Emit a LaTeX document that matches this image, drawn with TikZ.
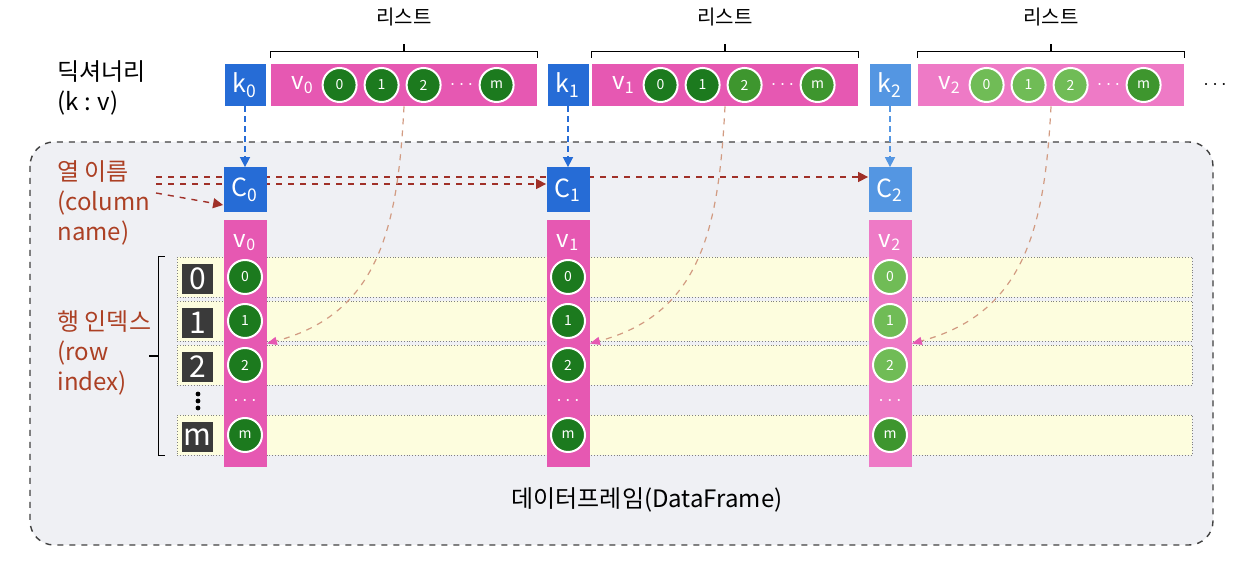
\documentclass[tikz,border=0pt]{standalone}
\usepackage{fontspec}
\setmainfont{Noto Sans CJK KR}
\usepackage{tikz}
\usetikzlibrary{arrows.meta, positioning, calc}
\pgfdeclarelayer{bg}
\pgfsetlayers{bg,main}

\definecolor{keyblue}{RGB}{38,108,214}
\definecolor{keyblue2}{RGB}{84,150,226}
\definecolor{barpink}{RGB}{230,88,178}
\definecolor{barpink2}{RGB}{238,122,198}
\definecolor{dkgreen}{RGB}{28,122,30}
\definecolor{mdgreen}{RGB}{62,150,46}
\definecolor{ltgreen}{RGB}{112,188,86}
\definecolor{rowyellow}{RGB}{253,253,222}
\definecolor{dfgray}{RGB}{239,240,244}
\definecolor{idxgray}{RGB}{58,58,58}
\definecolor{rust}{RGB}{172,64,36}
\definecolor{namered}{RGB}{160,48,40}
\definecolor{linkcol}{RGB}{210,155,130}

\begin{document}
\begin{tikzpicture}[x=0.5pt, y=-0.5pt, >={Triangle[length=5pt,width=5pt]},
    keybox/.style={fill=keyblue, text=white, minimum width=20.5pt, minimum height=21pt, inner sep=0pt, font=\fontsize{12.5}{12.5}\selectfont},
    listbar/.style={fill=barpink, minimum width=133pt, minimum height=21pt, inner sep=0pt},
    elem/.style={circle, fill=dkgreen, draw=white, line width=1pt, minimum size=17pt, inner sep=0pt, text=white, font=\fontsize{7}{7}\selectfont},
    colbox/.style={fill=keyblue, text=white, minimum width=21.5pt, minimum height=22.5pt, inner sep=0pt, font=\fontsize{12.5}{12.5}\selectfont},
    colbar/.style={fill=barpink, minimum width=21.5pt, minimum height=123.5pt, inner sep=0pt},
    band/.style={draw=gray, densely dotted, fill=rowyellow, minimum width=507.5pt, minimum height=20pt, inner sep=0pt},
    idx/.style={fill=idxgray, text=white, minimum width=15.5pt, minimum height=15pt, inner sep=0pt, font=\fontsize{15}{15}\selectfont},
    vlabel/.style={text=white, font=\fontsize{12}{12}\selectfont},
    ellip/.style={text=white, inner sep=0pt, font=\bfseries},
    bracket/.style={line width=0.6pt},
    listlabel/.style={font=\fontsize{10}{10}\selectfont},
    sidetext/.style={align=left, anchor=north west, inner sep=0pt, font=\fontsize{12}{15}\selectfont},
    dfframe/.style={draw=darkgray, dashed, fill=dfgray, rounded corners=12pt, line width=0.7pt},
    keyarrow/.style={->, densely dashed, keyblue, line width=0.8pt},
    namearrow/.style={->, dashed, namered, line width=0.7pt},
    linkarrow/.style={-{Triangle[length=5pt,width=4pt,color=barpink]}, dashed, linkcol, line width=0.6pt}]

  \useasboundingbox (0,0) rectangle (1252,565);

  % dataframe frame
  \begin{pgfonlayer}{bg}
    \draw[dfframe] (30,142) rectangle (1213,545);
  \end{pgfonlayer}

  % dictionary row
  \node[sidetext] (dict) at (57,60) {딕셔너리\\(k : v)};

  \node[keybox] (k0) at (245,85) {k\textsubscript{0}};
  \node[listbar] (L0) at (404,85) {};
  \node[keybox] (k1) at (568,85) {k\textsubscript{1}};
  \node[listbar] (L1) at (725,85) {};
  \node[keybox, fill=keyblue2] (k2) at (890,85) {k\textsubscript{2}};
  \node[listbar, fill=barpink2] (L2) at (1051,85) {};
  \node[right=6pt of L2] (more) {$\cdots$};

  \node[vlabel] (lv0) at ([xshift=16pt]L0.west) {v\textsubscript{0}};
  \node[elem] (a00) at ([xshift=34.5pt]L0.west) {0};
  \node[elem, right=3pt of a00] (a01) {1};
  \node[elem, right=3pt of a01] (a02) {2};
  \node[ellip] (ad0) at ([xshift=95.5pt]L0.west) {$\cdots$};
  \node[elem] (a0m) at ([xshift=113pt]L0.west) {m};

  \node[vlabel] (lv1) at ([xshift=16pt]L1.west) {v\textsubscript{1}};
  \node[elem] (a10) at ([xshift=34.5pt]L1.west) {0};
  \node[elem, right=3pt of a10] (a11) {1};
  \node[elem, fill=mdgreen, right=3pt of a11] (a12) {2};
  \node[ellip] (ad1) at ([xshift=95.5pt]L1.west) {$\cdots$};
  \node[elem, fill=mdgreen] (a1m) at ([xshift=113pt]L1.west) {m};

  \node[vlabel] (lv2) at ([xshift=16pt]L2.west) {v\textsubscript{2}};
  \node[elem, fill=ltgreen] (a20) at ([xshift=34.5pt]L2.west) {0};
  \node[elem, fill=ltgreen, right=3pt of a20] (a21) {1};
  \node[elem, fill=ltgreen, right=3pt of a21] (a22) {2};
  \node[ellip] (ad2) at ([xshift=95.5pt]L2.west) {$\cdots$};
  \node[elem, fill=mdgreen] (a2m) at ([xshift=113pt]L2.west) {m};

  % list brackets
  \draw[bracket] ([yshift=3pt]L0.north west) |- ([yshift=6pt]L0.north) -| ([yshift=3pt]L0.north east);
  \draw[bracket] ([yshift=6pt]L0.north) -- ([yshift=10pt]L0.north);
  \node[listlabel, above=15pt of L0] (t0) {리스트};
  \draw[bracket] ([yshift=3pt]L1.north west) |- ([yshift=6pt]L1.north) -| ([yshift=3pt]L1.north east);
  \draw[bracket] ([yshift=6pt]L1.north) -- ([yshift=10pt]L1.north);
  \node[listlabel, above=15pt of L1] (t1) {리스트};
  \draw[bracket] ([yshift=3pt]L2.north west) |- ([yshift=6pt]L2.north) -| ([yshift=3pt]L2.north east);
  \draw[bracket] ([yshift=6pt]L2.north) -- ([yshift=10pt]L2.north);
  \node[listlabel, above=15pt of L2] (t2) {리스트};

  % row bands
  \node[band] (r0) at (684.5,277) {};
  \node[band] (r1) at (684.5,321) {};
  \node[band] (r2) at (684.5,365) {};
  \node[band] (rm) at (684.5,435) {};

  \node[idx] (i0) at ([xshift=10.5pt,yshift=-1pt]r0.west) {0};
  \node[idx] (i1) at ([xshift=10.5pt,yshift=-1pt]r1.west) {1};
  \node[idx] (i2) at ([xshift=10.5pt,yshift=-1pt]r2.west) {2};
  \coordinate (vd) at (198,401);
  \fill ([yshift=3.5pt]vd) circle (1.2pt) (vd) circle (1.2pt) ([yshift=-3.5pt]vd) circle (1.2pt);
  \node[idx] (im) at ([xshift=10.5pt,yshift=-1pt]rm.west) {m};

  \draw[bracket] ([xshift=-6pt]r0.north west) -- ++(-3pt,0) |- ([xshift=-6pt]rm.south west);
  \draw[bracket] ($(r0.north west)!0.5!(rm.south west)+(-9pt,0)$) -- ++(-5pt,0);

  \node[sidetext, text=rust] (cname) at (57,160) {열 이름\\(column\\name)};
  \node[sidetext, text=rust] (rname) at (57,310) {행 인덱스\\(row\\index)};

  % columns
  \node[colbox] (C0) at (245,190) {C\textsubscript{0}};
  \node[colbar] (col0) at (245,343.5) {};
  \node[vlabel] at ([yshift=-11.5pt]col0.north) {v\textsubscript{0}};
  \node[elem] (b00) at (col0 |- r0) {0};
  \node[elem] (b01) at (col0 |- r1) {1};
  \node[elem] (b02) at (col0 |- r2) {2};
  \node[ellip] at (col0 |- vd) {$\cdots$};
  \node[elem] (b0m) at (col0 |- rm) {m};

  \node[colbox] (C1) at (568,190) {C\textsubscript{1}};
  \node[colbar] (col1) at (568,343.5) {};
  \node[vlabel] at ([yshift=-11.5pt]col1.north) {v\textsubscript{1}};
  \node[elem] (b10) at (col1 |- r0) {0};
  \node[elem] (b11) at (col1 |- r1) {1};
  \node[elem] (b12) at (col1 |- r2) {2};
  \node[ellip] at (col1 |- vd) {$\cdots$};
  \node[elem] (b1m) at (col1 |- rm) {m};

  \node[colbox, fill=keyblue2] (C2) at (890,190) {C\textsubscript{2}};
  \node[colbar, fill=barpink2] (col2) at (890,343.5) {};
  \node[vlabel] at ([yshift=-11.5pt]col2.north) {v\textsubscript{2}};
  \node[elem, fill=ltgreen] (b20) at (col2 |- r0) {0};
  \node[elem, fill=ltgreen] (b21) at (col2 |- r1) {1};
  \node[elem, fill=ltgreen] (b22) at (col2 |- r2) {2};
  \node[ellip] at (col2 |- vd) {$\cdots$};
  \node[elem, fill=mdgreen] (b2m) at (col2 |- rm) {m};

  \node[font=\fontsize{12}{12}\selectfont] (title) at (647,500) {데이터프레임(DataFrame)};

  % keys to column names
  \draw[keyarrow] (k0) -- (C0);
  \draw[keyarrow] (k1) -- (C1);
  \draw[keyarrow, keyblue2] (k2) -- (C2);

  \coordinate (cn1) at (156,177);
  \coordinate (cn2) at (156,184);
  \coordinate (cn3) at (156,193);
  \begin{pgfonlayer}{bg}
    \draw[namearrow] (cn1) -- (cn1 -| C2.west);
    \draw[namearrow] (cn2) -- (cn2 -| C1.west);
    \draw[namearrow] (cn3) -- ([yshift=-7.5pt]C0.west);
  \end{pgfonlayer}

  % lists to columns
  \draw[linkarrow] (L0.south) to[out=-93, in=15, looseness=1.1] (col0.east);
  \draw[linkarrow] (L1.south) to[out=-93, in=15, looseness=1.1] (col1.east);
  \draw[linkarrow] (L2.south) to[out=-93, in=15, looseness=1.1] (col2.east);
\end{tikzpicture}
\end{document}
